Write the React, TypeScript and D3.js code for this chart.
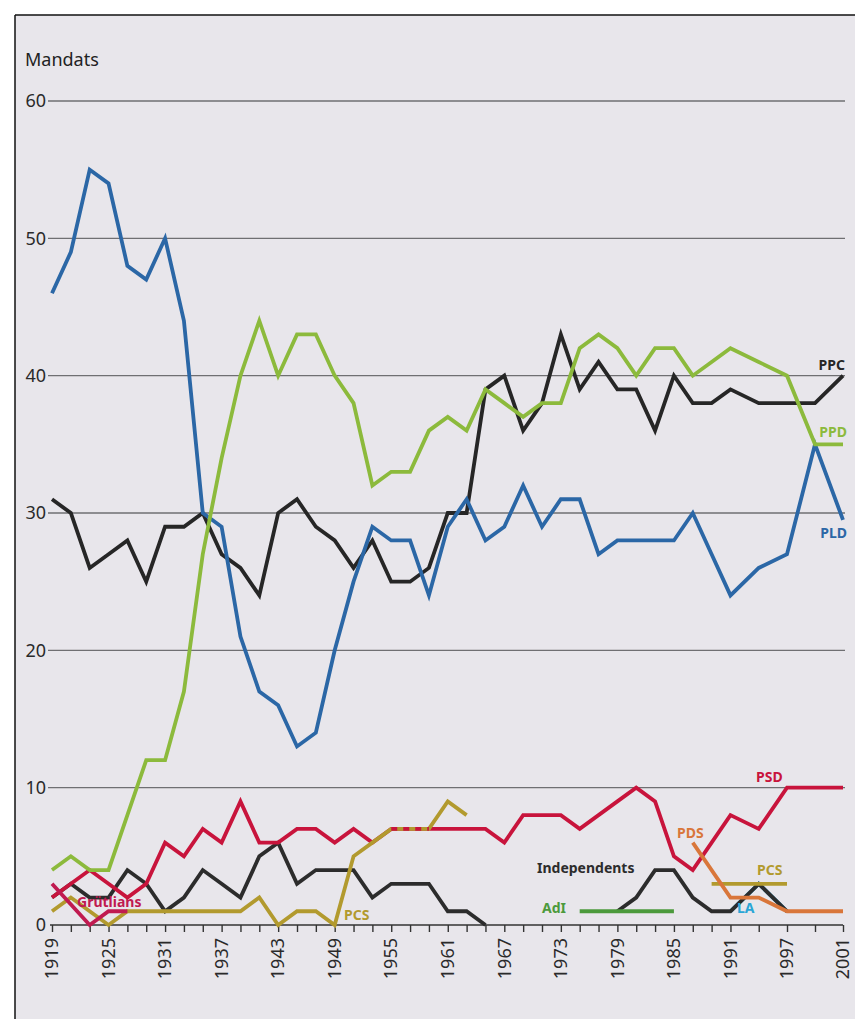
import React, { useEffect, useRef } from 'react';
import * as d3 from 'd3';

// election years (x axis), 2-year steps until 1991
const years = [1919, 1921, 1923, 1925, 1927, 1929, 1931, 1933, 1935, 1937, 1939, 1941, 1943, 1945, 1947, 1949, 1951, 1953, 1955, 1957, 1959, 1961, 1963, 1965, 1967, 1969, 1971, 1973, 1975, 1977, 1979, 1981, 1983, 1985, 1987, 1989, 1991, 1994, 1997, 1999, 2001];
const labelYears = [1919, 1925, 1931, 1937, 1943, 1949, 1955, 1961, 1967, 1973, 1979, 1985, 1991, 1997, 2001];
const yTicks = [0, 10, 20, 30, 40, 50, 60];

const pld = [46, 49, 55, 54, 48, 47, 50, 44, 30, 29, 21, 17, 16, 13, 14, 20, 25, 29, 28, 28, 24, 29, 31, 28, 29, 32, 29, 31, 31, 27, 28, 28, 28, 28, 30, 27, 24, 26, 27, 35, 29.5];
const ppd = [4, 5, 4, 4, 8, 12, 12, 17, 27, 34, 40, 44, 40, 43, 43, 40, 38, 32, 33, 33, 36, 37, 36, 39, 38, 37, 38, 38, 42, 43, 42, 40, 42, 42, 40, 41, 42, 41, 40, 35, 35];
const ppc = [31, 30, 26, 27, 28, 25, 29, 29, 30, 27, 26, 24, 30, 31, 29, 28, 26, 28, 25, 25, 26, 30, 30, 39, 40, 36, 38, 43, 39, 41, 39, 39, 36, 40, 38, 38, 39, 38, 38, 38, 40];
const psd = [2, 3, 4, 3, 2, 3, 6, 5, 7, 6, 9, 6, 6, 7, 7, 6, 7, 6, 7, 7, 7, 7, 7, 7, 6, 8, 8, 8, 7, 8, 9, 10, 9, 5, 4, 6, 8, 7, 10, 10, 10];

const grutliYears = [1919, 1923, 1925, 1927];
const grutli = [3, 0, 1, 1];

const pcsYearsA = [1919, 1921, 1923, 1925, 1927, 1929, 1931, 1933, 1935, 1937, 1939, 1941, 1943, 1945, 1947, 1949, 1951, 1953, 1955, 1957, 1959, 1961, 1963];
const pcsA = [1, 2, 1, 0, 1, 1, 1, 1, 1, 1, 1, 2, 0, 1, 1, 0, 5, 6, 7, 7, 7, 9, 8];
const pcsYearsB = [1989, 1991, 1994, 1997];
const pcsB = [3, 3, 3, 3];

const indYearsA = [1919, 1921, 1923, 1925, 1927, 1929, 1931, 1933, 1935, 1937, 1939, 1941, 1943, 1945, 1947, 1949, 1951, 1953, 1955, 1957, 1959, 1961, 1963, 1965];
const indA = [2, 3, 2, 2, 4, 3, 1, 2, 4, 3, 2, 5, 6, 3, 4, 4, 4, 2, 3, 3, 3, 1, 1, 0];
const indYearsB = [1979, 1981, 1983, 1985, 1987, 1989, 1991, 1994, 1997];
const indB = [1, 2, 4, 4, 2, 1, 1, 3, 1];

const adiYears = [1975, 1977, 1979, 1981, 1983, 1985];
const adi = [1, 1, 1, 1, 1, 1];

const laYears = [1991, 1994, 1997];
const la = [1, 3, 1];

const pdsYears = [1987, 1989, 1991, 1994, 1997, 1999, 2001];
const pds = [6, 4, 2, 2, 1, 1, 1];

const colors = {
  pld: '#2b67a6',
  ppd: '#8cba3c',
  ppc: '#262626',
  psd: '#c8143c',
  grutli: '#c01a50',
  pcs: '#b29a2e',
  ind: '#2c2c2c',
  adi: '#4c9a3c',
  la: '#2aa6d6',
  pds: '#d9763a',
};

const FONT = '"Noto Sans", "Open Sans", sans-serif';

const App: React.FC = () => {
  const svgRef = useRef<SVGSVGElement>(null);

  useEffect(() => {
    if (!svgRef.current) return;
    const svg = d3.select(svgRef.current);
    svg.selectAll('*').remove();

    const x = d3.scaleLinear().domain([1919, 1997, 2001]).range([52, 787, 843]);
    const y = d3.scaleLinear().domain([0, 60]).range([925, 101]);

    // paper background and frame
    svg.append('rect').attr('x', 15).attr('y', 15).attr('width', 840).attr('height', 1004).attr('fill', '#e8e6eb');
    svg.append('line').attr('x1', 15).attr('y1', 15).attr('x2', 15).attr('y2', 1019).attr('stroke', '#111').attr('stroke-width', 1.5);
    svg.append('line').attr('x1', 15).attr('y1', 15).attr('x2', 855).attr('y2', 15).attr('stroke', '#111').attr('stroke-width', 1.5);

    // gridlines
    svg.append('g')
      .selectAll('line')
      .data(yTicks.filter(t => t > 0))
      .enter()
      .append('line')
      .attr('x1', 48)
      .attr('x2', 845)
      .attr('y1', d => y(d))
      .attr('y2', d => y(d))
      .attr('stroke', '#6f6f72')
      .attr('stroke-width', 1.4);

    // y labels
    svg.append('g')
      .selectAll('text')
      .data(yTicks)
      .enter()
      .append('text')
      .attr('x', 46)
      .attr('y', d => y(d))
      .attr('dy', '0.36em')
      .attr('text-anchor', 'end')
      .style('font-family', FONT)
      .style('font-size', '18px')
      .style('fill', '#2a2a2a')
      .text(d => d);

    svg.append('text')
      .attr('x', 25)
      .attr('y', 66)
      .style('font-family', FONT)
      .style('font-size', '18px')
      .style('fill', '#222')
      .text('Mandats');

    // x axis
    const xAxis = d3.axisBottom(x)
      .tickValues(years)
      .tickSize(7)
      .tickSizeOuter(0)
      .tickFormat((d: any) => (labelYears.includes(d) ? String(d) : '') as any);

    const ax = svg.append('g')
      .attr('transform', `translate(0,${y(0)})`)
      .call(xAxis as any);
    ax.select('.domain').attr('stroke', '#333').attr('stroke-width', 1.6).attr('d', `M50,0H843`);
    ax.selectAll('.tick line').attr('stroke', '#333').attr('stroke-width', 1.4);
    ax.selectAll('text')
      .attr('transform', 'rotate(-90)')
      .attr('x', -13)
      .attr('y', 0)
      .attr('dy', '0.32em')
      .style('text-anchor', 'end')
      .style('font-family', FONT)
      .style('font-size', '18px')
      .style('fill', '#2a2a2a');

    const line = d3.line<[number, number]>()
      .x(d => x(d[0]))
      .y(d => y(d[1]));

    const drawSeries = (xs: number[], vs: number[], color: string, dash?: string) => {
      svg.append('path')
        .datum(d3.zip(xs, vs) as [number, number][])
        .attr('d', line)
        .attr('fill', 'none')
        .attr('stroke', color)
        .attr('stroke-width', 3.8)
        .attr('stroke-linejoin', 'miter')
        .attr('stroke-dasharray', dash || null);
    };

    drawSeries(laYears, la, colors.la);
    drawSeries(indYearsA, indA, colors.ind);
    drawSeries(indYearsB, indB, colors.ind);
    drawSeries(adiYears, adi, colors.adi);
    drawSeries(years, psd, colors.psd);
    drawSeries(pcsYearsA, pcsA, colors.pcs);
    drawSeries(pcsYearsB, pcsB, colors.pcs);
    // PSD and PCS share seats 1955-1959: alternate the colours
    const shared = years.map((yr, i) => [yr, psd[i]] as [number, number]).filter(d => d[0] >= 1955 && d[0] <= 1959);
    drawSeries(shared.map(d => d[0]), shared.map(d => d[1]), colors.psd, '6 6');
    drawSeries(grutliYears, grutli, colors.grutli);
    drawSeries(pdsYears, pds, colors.pds);
    drawSeries(years, ppc, colors.ppc);
    drawSeries(years, pld, colors.pld);
    drawSeries(years, ppd, colors.ppd);

    // series labels
    const labels = [
      { text: 'PPC', x: 845, y: 370, anchor: 'end', color: colors.ppc },
      { text: 'PPD', x: 847, y: 437, anchor: 'end', color: colors.ppd },
      { text: 'PLD', x: 847, y: 538, anchor: 'end', color: colors.pld },
      { text: 'PSD', x: 756, y: 782, anchor: 'start', color: colors.psd },
      { text: 'PDS', x: 677, y: 838, anchor: 'start', color: colors.pds },
      { text: 'PCS', x: 757, y: 875, anchor: 'start', color: colors.pcs },
      { text: 'Independents', x: 537, y: 873, anchor: 'start', color: colors.ind },
      { text: 'AdI', x: 542, y: 913, anchor: 'start', color: colors.adi },
      { text: 'LA', x: 737, y: 913, anchor: 'start', color: colors.la },
      { text: 'PCS', x: 344, y: 920, anchor: 'start', color: colors.pcs },
      { text: 'Grütlians', x: 77, y: 907, anchor: 'start', color: colors.grutli },
    ];
    svg.append('g')
      .selectAll('text')
      .data(labels)
      .enter()
      .append('text')
      .attr('x', d => d.x)
      .attr('y', d => d.y)
      .attr('text-anchor', d => d.anchor)
      .style('font-family', FONT)
      .style('font-size', '14px')
      .style('font-weight', 'bold')
      .style('fill', d => d.color)
      .text(d => d.text);
  }, []);

  return (
    <svg
      ref={svgRef}
      width={855}
      height={1019}
      style={{ position: 'absolute', left: 0, top: 0, background: '#fff' }}
    />
  );
};

export default App;
